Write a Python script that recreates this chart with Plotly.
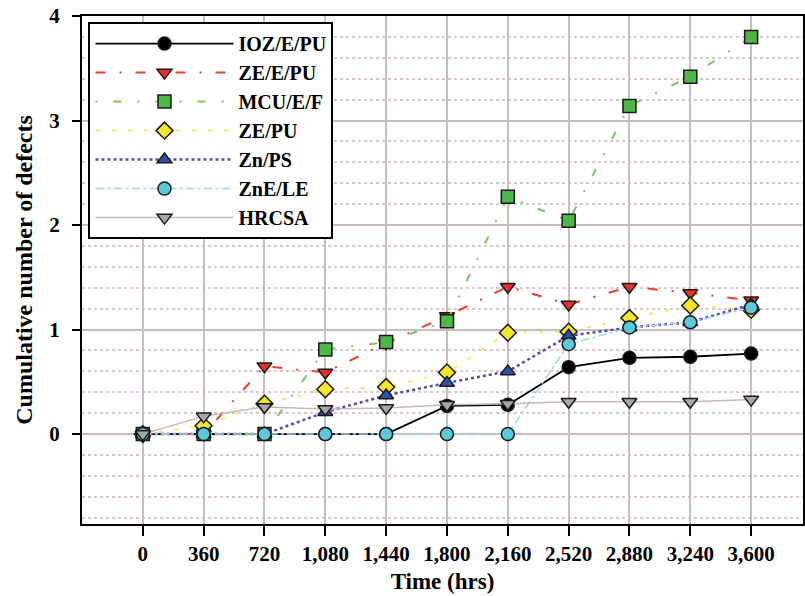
import plotly.graph_objects as go

# Exposure time (hours) and cumulative defect counts per coating system
hours = [0, 360, 720, 1080, 1440, 1800, 2160, 2520, 2880, 3240, 3600]
tick_text = ["0", "360", "720", "1,080", "1,440", "1,800", "2,160", "2,520", "2,880", "3,240", "3,600"]

ioz_e_pu = [0, 0, 0, 0, 0, 0.27, 0.28, 0.64, 0.73, 0.74, 0.77]
ze_e_pu = [0, 0, 0.65, 0.59, 0.87, 1.13, 1.41, 1.24, 1.41, 1.35, 1.28]
mcu_e_f = [0, 0, 0, 0.81, 0.88, 1.08, 2.27, 2.04, 3.14, 3.42, 3.80]
ze_pu = [0, 0.08, 0.29, 0.43, 0.45, 0.59, 0.97, 0.98, 1.11, 1.23, 1.19]
zn_ps = [0, 0, 0, 0.21, 0.37, 0.49, 0.60, 0.94, 1.02, 1.07, 1.24]
zne_le = [0, 0, 0, 0, 0, 0, 0, 0.86, 1.02, 1.07, 1.21]
hrcsa = [0, 0.17, 0.26, 0.24, 0.25, 0.28, 0.29, 0.31, 0.31, 0.31, 0.33]

series = [
    ("IOZ/E/PU", ioz_e_pu, "#000000", "#000000", "solid", 1.8, "circle"),
    ("ZE/E/PU", ze_e_pu, "#e8402f", "#e8312a", "10px,14px,2px,14px", 2, "triangle-down"),
    ("MCU/E/F", mcu_e_f, "#7cc46a", "#4cb848", "2px,16px,8px,16px", 2, "square"),
    ("ZE/PU", ze_pu, "#f2e86a", "#f5e627", "4px,12px", 2, "diamond"),
    ("Zn/PS", zn_ps, "#5a48a8", "#2f4fa8", "dot", 2.5, "triangle-up"),
    ("ZnE/LE", zne_le, "#9ed6ea", "#5bc8dc", "dashdot", 1.5, "circle"),
    ("HRCSA", hrcsa, "#c9b8b8", "#a8a8a8", "solid", 1.5, "triangle-down"),
]

fig = go.Figure()
for name, vals, lcol, mcol, dash, lw, sym in series:
    fig.add_trace(go.Scatter(
        x=hours, y=vals, name=name, mode="lines+markers",
        line=dict(color=lcol, width=lw, dash=dash),
        marker=dict(symbol=sym, size=13, color=mcol,
                    line=dict(color="#1a1a1a", width=1.5)),
    ))

serif = "Liberation Serif"
grid_col = "#cbbcbc"

fig.update_layout(
    width=805, height=596,
    margin=dict(l=82, r=0, t=16, b=72),
    paper_bgcolor="white", plot_bgcolor="white",
    font=dict(family=serif, size=20, color="black", weight="bold"),
    legend=dict(
        x=0.009, y=0.988, xanchor="left", yanchor="top",
        bgcolor="white", bordercolor="black", borderwidth=2,
        font=dict(family=serif, size=20, color="black", weight="bold"),
        itemwidth=138,
    ),
    xaxis=dict(
        range=[-360, 3907],
        tickvals=hours, ticktext=tick_text,
        ticks="outside", ticklen=10, tickcolor="black", tickwidth=1.5,
        showgrid=True, gridcolor=grid_col, gridwidth=1.5,
        zeroline=False,
        showline=True, linecolor="black", linewidth=2, mirror=True,
        tickfont=dict(family=serif, size=21, color="black", weight="bold"),
        title=dict(text="Time (hrs)", standoff=8,
                   font=dict(family=serif, size=23, color="black", weight="bold")),
    ),
    yaxis=dict(
        range=[-0.86, 4.0],
        tickvals=[0, 1, 2, 3, 4],
        ticks="outside", ticklen=8, tickcolor="black", tickwidth=1.5,
        ticklabelstandoff=8,
        showgrid=True, gridcolor=grid_col, gridwidth=1.5,
        zeroline=False,
        showline=True, linecolor="black", linewidth=2, mirror=True,
        minor=dict(tick0=0, dtick=0.2, showgrid=True, gridcolor="#d6c8c8",
                   gridwidth=1.5, griddash="dot", ticks=""),
        tickfont=dict(family=serif, size=21, color="black", weight="bold"),
        title=dict(text="Cumulative number of defects", standoff=10,
                   font=dict(family=serif, size=24, color="black", weight="bold")),
    ),
)

fig.write_html("out.html")
